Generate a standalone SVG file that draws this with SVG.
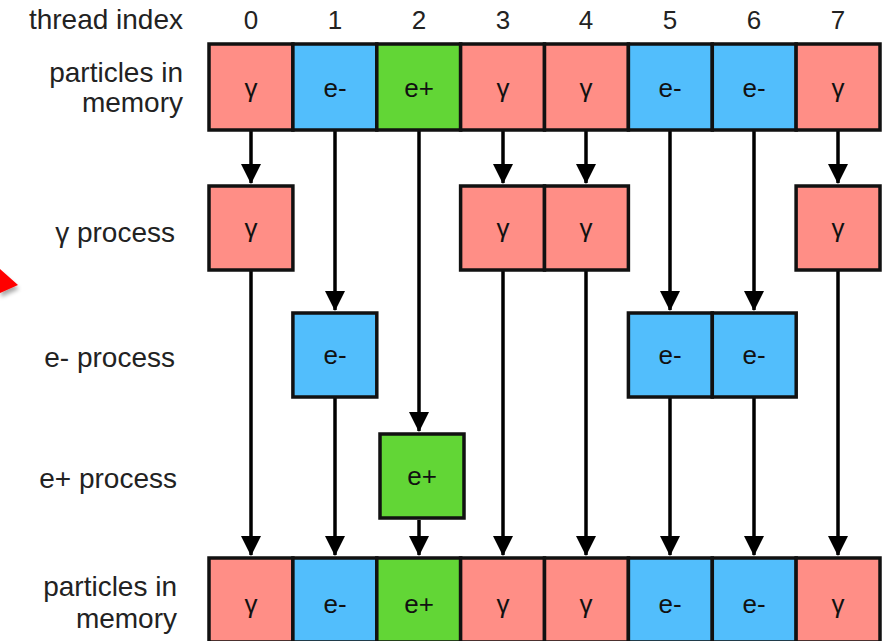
<svg xmlns="http://www.w3.org/2000/svg" width="889" height="641" viewBox="0 0 889 641">
<style>
  .lbl{font-family:"Liberation Sans",Arial,sans-serif;font-size:28px;fill:#222;text-anchor:end}
  .num{font-family:"Liberation Sans",Arial,sans-serif;font-size:26px;fill:#222;text-anchor:middle}
  .bt{font-family:"Liberation Sans",Arial,sans-serif;font-size:26px;fill:#111;text-anchor:middle}
  .g{fill:#FF8E86;stroke:#111;stroke-width:3.5}
  .em{fill:#52BEFC;stroke:#111;stroke-width:3.5}
  .ep{fill:#62D636;stroke:#111;stroke-width:3.5}
  .conn line{stroke:#000;stroke-width:3.5;marker-end:url(#ah)}
</style>
<defs>
  <marker id="ah" markerUnits="userSpaceOnUse" markerWidth="20" markerHeight="20" viewBox="0 0 19 19" refX="18" refY="9.5" orient="auto">
    <path d="M0,0 L19,9.5 L0,19 z" fill="#000"/>
  </marker>
  <filter id="sh" x="-50%" y="-50%" width="200%" height="200%">
    <feGaussianBlur in="SourceAlpha" stdDeviation="2"/>
    <feOffset dx="1" dy="4" result="b"/>
    <feComponentTransfer><feFuncA type="linear" slope="0.35"/></feComponentTransfer>
    <feMerge><feMergeNode/><feMergeNode in="SourceGraphic"/></feMerge>
  </filter>
</defs>
<rect width="889" height="641" fill="#fff"/>

<polygon points="0,269 18,285 0,293" fill="#FF0000" filter="url(#sh)"/>

<g id="row-labels">
  <text class="lbl" x="183" y="29">thread index</text>
  <text class="lbl" x="183" y="82">particles in</text>
  <text class="lbl" x="183" y="112">memory</text>
  <text class="lbl" x="175" y="242">γ process</text>
  <text class="lbl" x="175" y="367">e- process</text>
  <text class="lbl" x="177" y="488">e+ process</text>
  <text class="lbl" x="177" y="596">particles in</text>
  <text class="lbl" x="177" y="628">memory</text>
</g>

<g id="thread-indices">
  <text class="num" x="251" y="29">0</text>
  <text class="num" x="335" y="29">1</text>
  <text class="num" x="419" y="29">2</text>
  <text class="num" x="503" y="29">3</text>
  <text class="num" x="586" y="29">4</text>
  <text class="num" x="670" y="29">5</text>
  <text class="num" x="754" y="29">6</text>
  <text class="num" x="838" y="29">7</text>
</g>

<g class="conn" id="connectors">
  <line x1="251" y1="131" x2="251" y2="183"/>
  <line x1="251" y1="271" x2="251" y2="555"/>
  <line x1="335" y1="131" x2="335" y2="310"/>
  <line x1="335" y1="398" x2="335" y2="555"/>
  <line x1="419" y1="131" x2="419" y2="431"/>
  <line x1="419" y1="520" x2="419" y2="555"/>
  <line x1="503" y1="131" x2="503" y2="183"/>
  <line x1="503" y1="271" x2="503" y2="555"/>
  <line x1="586" y1="131" x2="586" y2="183"/>
  <line x1="586" y1="271" x2="586" y2="555"/>
  <line x1="670" y1="131" x2="670" y2="310"/>
  <line x1="670" y1="398" x2="670" y2="555"/>
  <line x1="754" y1="131" x2="754" y2="310"/>
  <line x1="754" y1="398" x2="754" y2="555"/>
  <line x1="838" y1="131" x2="838" y2="183"/>
  <line x1="838" y1="271" x2="838" y2="555"/>
</g>

<g id="memory-top">
  <g id="top-0"><rect class="g" x="209" y="44" width="83.9" height="86"/><text class="bt" x="251" y="97">γ</text></g>
  <g id="top-1"><rect class="em" x="292.9" y="44" width="83.9" height="86"/><text class="bt" x="335" y="97">e-</text></g>
  <g id="top-2"><rect class="ep" x="376.8" y="44" width="83.9" height="86"/><text class="bt" x="419" y="97">e+</text></g>
  <g id="top-3"><rect class="g" x="460.6" y="44" width="83.9" height="86"/><text class="bt" x="503" y="97">γ</text></g>
  <g id="top-4"><rect class="g" x="544.5" y="44" width="83.9" height="86"/><text class="bt" x="586" y="97">γ</text></g>
  <g id="top-5"><rect class="em" x="628.4" y="44" width="83.9" height="86"/><text class="bt" x="670" y="97">e-</text></g>
  <g id="top-6"><rect class="em" x="712.3" y="44" width="83.9" height="86"/><text class="bt" x="754" y="97">e-</text></g>
  <g id="top-7"><rect class="g" x="796.1" y="44" width="83.9" height="86"/><text class="bt" x="838" y="97">γ</text></g>
</g>

<g id="gamma-process">
  <g id="gp-0"><rect class="g" x="209" y="186" width="83.9" height="84"/><text class="bt" x="251" y="237">γ</text></g>
  <g id="gp-3"><rect class="g" x="460.6" y="186" width="83.9" height="84"/><text class="bt" x="503" y="237">γ</text></g>
  <g id="gp-4"><rect class="g" x="544.5" y="186" width="83.9" height="84"/><text class="bt" x="586" y="237">γ</text></g>
  <g id="gp-7"><rect class="g" x="796.1" y="186" width="83.9" height="84"/><text class="bt" x="838" y="237">γ</text></g>
</g>

<g id="eminus-process">
  <g id="ep-1"><rect class="em" x="292.9" y="313" width="83.9" height="84"/><text class="bt" x="335" y="364">e-</text></g>
  <g id="ep-5"><rect class="em" x="628.4" y="313" width="83.9" height="84"/><text class="bt" x="670" y="364">e-</text></g>
  <g id="ep-6"><rect class="em" x="712.3" y="313" width="83.9" height="84"/><text class="bt" x="754" y="364">e-</text></g>
</g>

<g id="eplus-process">
  <g id="pp-2"><rect class="ep" x="380" y="434" width="84" height="84"/><text class="bt" x="422" y="485">e+</text></g>
</g>

<g id="memory-bottom">
  <g id="bot-0"><rect class="g" x="209" y="558" width="83.9" height="84"/><text class="bt" x="251" y="613">γ</text></g>
  <g id="bot-1"><rect class="em" x="292.9" y="558" width="83.9" height="84"/><text class="bt" x="335" y="613">e-</text></g>
  <g id="bot-2"><rect class="ep" x="376.8" y="558" width="83.9" height="84"/><text class="bt" x="419" y="613">e+</text></g>
  <g id="bot-3"><rect class="g" x="460.6" y="558" width="83.9" height="84"/><text class="bt" x="503" y="613">γ</text></g>
  <g id="bot-4"><rect class="g" x="544.5" y="558" width="83.9" height="84"/><text class="bt" x="586" y="613">γ</text></g>
  <g id="bot-5"><rect class="em" x="628.4" y="558" width="83.9" height="84"/><text class="bt" x="670" y="613">e-</text></g>
  <g id="bot-6"><rect class="em" x="712.3" y="558" width="83.9" height="84"/><text class="bt" x="754" y="613">e-</text></g>
  <g id="bot-7"><rect class="g" x="796.1" y="558" width="83.9" height="84"/><text class="bt" x="838" y="613">γ</text></g>
</g>
</svg>
